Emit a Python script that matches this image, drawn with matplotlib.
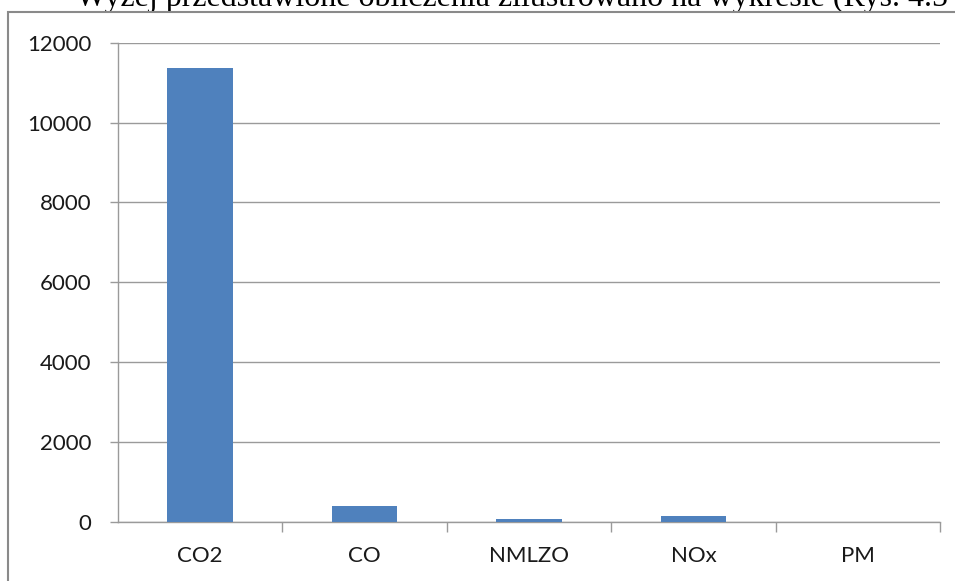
import matplotlib
matplotlib.use("Agg")
import matplotlib.pyplot as plt
from matplotlib.patches import Rectangle
from matplotlib.ticker import FixedLocator, NullFormatter

# Emission totals per pollutant
categories = ["CO2", "CO", "NMLZO", "NOx", "PM"]
values = [11370, 390, 70, 140, 2]
y_ticks = [0, 2000, 4000, 6000, 8000, 10000, 12000]

W, H, DPI = 955, 581, 100
fig = plt.figure(figsize=(W / DPI, H / DPI), dpi=DPI)
fig.patch.set_facecolor("white")

# Running document line partly hidden behind the chart frame
fig.text(76 / W, 1 - 6 / H,
         "Wyżej przedstawione obliczenia zilustrowano na wykresie (Rys. 4.5",
         family="Liberation Serif", fontsize=23, color="black",
         ha="left", va="baseline", zorder=-3)

# Chart frame (white fill with grey border)
frame = Rectangle((8 / W, -0.1), 1.2, 1 - 12.5 / H + 0.1,
                  transform=fig.transFigure, facecolor="white",
                  edgecolor="#8a8a8a", linewidth=1.5, zorder=-2)
fig.patches.append(frame)

ax = fig.add_axes([118 / W, 59 / H, (940 - 118) / W, (522 - 42.7) / H])
ax.set_facecolor("none")

grid_c = "#9a9a9a"
x = list(range(len(categories)))
ax.bar(x, values, width=0.4, color="#4F81BD", zorder=3)

ax.set_xlim(-0.5, len(categories) - 0.5)
ax.set_ylim(0, 12000)
ax.set_yticks(y_ticks)
ax.set_yticklabels([str(v) for v in y_ticks])
ax.yaxis.grid(True, color=grid_c, linewidth=1.0, zorder=0)

ax.set_xticks(x)
ax.set_xticklabels(categories)
ax.xaxis.set_minor_locator(FixedLocator([i + 0.5 for i in range(len(categories))]))
ax.xaxis.set_minor_formatter(NullFormatter())

for s in ["top", "right"]:
    ax.spines[s].set_visible(False)
for s in ["left", "bottom"]:
    ax.spines[s].set_color(grid_c)
    ax.spines[s].set_linewidth(1.0)

lab_font = dict(family="Lato", size=16)
for t in ax.get_yticklabels() + ax.get_xticklabels():
    t.set_fontfamily("Lato")
    t.set_fontsize(16)
    t.set_color("#1a1a1a")

ax.tick_params(axis="y", which="major", direction="out", length=6,
               width=1.0, color=grid_c, pad=13)
ax.tick_params(axis="x", which="major", length=0, pad=17)
ax.tick_params(axis="x", which="minor", direction="out", length=7.5,
               width=1.0, color=grid_c)

fig.savefig("out.png", dpi=DPI, facecolor="white")
